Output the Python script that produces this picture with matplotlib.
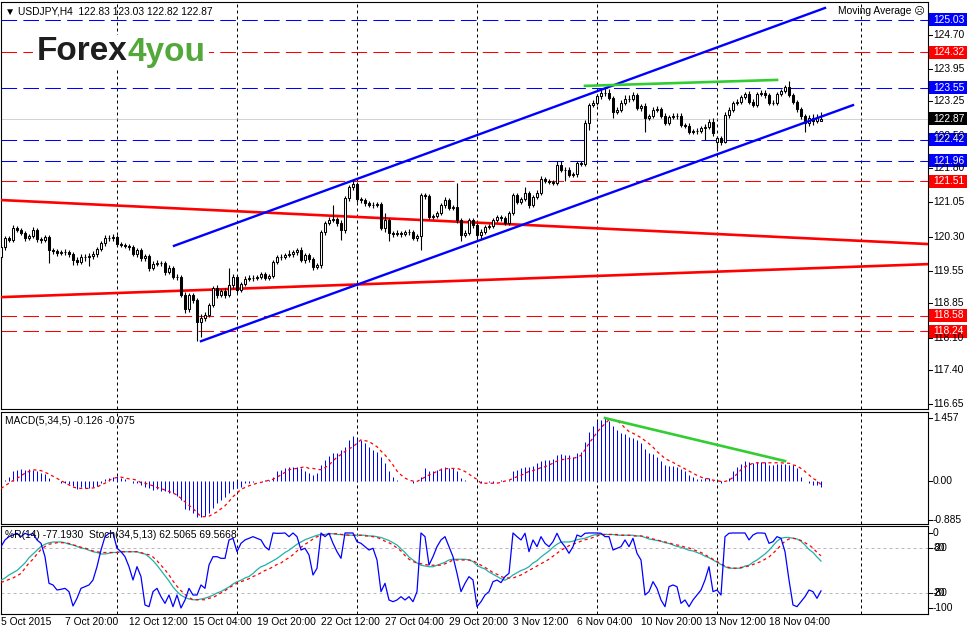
import matplotlib
matplotlib.use('Agg')
import matplotlib.pyplot as plt
from matplotlib.patches import Rectangle
from matplotlib.transforms import blended_transform_factory
import numpy as np

# ---- price data (USDJPY H4), bar 0 = 5 Oct 2015 ----
opens = [
    119.86, 120.07, 120.27, 120.23, 120.49, 120.45, 120.38, 120.27, 120.31, 120.45,
    120.25, 120.23, 120.29, 120.01, 119.99, 119.94, 119.96, 119.96, 119.92, 119.79,
    119.75, 119.86, 119.86, 119.88, 119.92, 120.03, 120.16, 120.27, 120.27, 120.29,
    120.14, 120.12, 120.10, 120.07, 119.92, 120.01, 119.83, 119.88, 119.62, 119.70,
    119.72, 119.72, 119.53, 119.62, 119.42, 119.42, 119.03, 118.72, 119.03, 118.92,
    118.44, 118.52, 118.59, 118.81, 119.18, 119.03, 119.11, 119.03, 119.24, 119.42,
    119.14, 119.27, 119.38, 119.40, 119.40, 119.42, 119.48, 119.40, 119.44, 119.75,
    119.86, 119.86, 119.90, 119.92, 119.96, 120.01, 119.79, 119.90, 119.81, 119.64,
    119.68, 120.40, 120.60, 120.66, 120.69, 120.60, 120.45, 121.14, 121.38, 121.45,
    121.12, 121.10, 121.03, 120.99, 120.99, 121.01, 120.49, 120.66, 120.38, 120.36,
    120.38, 120.36, 120.40, 120.40, 120.27, 120.31, 121.21, 121.19, 120.73, 120.75,
    120.82, 120.99, 121.10, 120.93, 120.95, 120.66, 120.34, 120.38, 120.66, 120.55,
    120.34, 120.40, 120.51, 120.53, 120.66, 120.73, 120.71, 120.60, 120.82, 121.21,
    121.06, 121.12, 121.25, 120.99, 121.17, 121.25, 121.56, 121.52, 121.49, 121.47,
    121.86, 121.76, 121.76, 121.65, 121.67, 121.91, 121.89, 122.78, 123.17, 123.22,
    123.37, 123.44, 123.44, 123.33, 123.02, 123.07, 123.22, 123.31, 123.31, 123.39,
    123.11, 123.15, 122.89, 122.93, 123.07, 123.09, 122.93, 122.78, 122.91, 122.93,
    122.93, 122.74, 122.72, 122.59, 122.61, 122.61, 122.67, 122.69, 122.80, 122.37,
    122.45, 122.37, 122.96, 123.07, 123.22, 123.24, 123.35, 123.41, 123.24, 123.17,
    123.41, 123.44, 123.39, 123.22, 123.22, 123.41, 123.48, 123.57, 123.39, 123.24,
    123.09, 122.93, 122.78, 122.89, 122.83, 122.83]
highs = [
    120.12, 120.32, 120.31, 120.55, 120.54, 120.50, 120.42, 120.36, 120.51, 120.49,
    120.30, 120.34, 120.33, 120.06, 120.04, 120.02, 120.03, 120.00, 119.96, 119.85,
    119.92, 119.93, 119.95, 119.98, 120.08, 120.21, 120.33, 120.34, 120.35, 120.33,
    120.19, 120.17, 120.15, 120.12, 120.06, 120.06, 119.93, 119.92, 119.76, 119.80,
    119.78, 119.78, 119.68, 119.67, 119.48, 119.47, 119.09, 119.08, 119.08, 118.97,
    118.62, 118.66, 118.86, 119.23, 119.25, 119.16, 119.17, 119.62, 119.48, 119.47,
    119.32, 119.44, 119.46, 119.46, 119.47, 119.53, 119.53, 119.49, 119.80, 119.91,
    119.92, 119.95, 120.02, 120.01, 120.06, 120.07, 119.95, 119.95, 119.86, 119.73,
    120.45, 120.65, 120.72, 120.99, 120.74, 120.66, 121.19, 121.43, 121.53, 121.50,
    121.17, 121.15, 121.08, 121.05, 121.06, 121.06, 120.82, 120.70, 120.43, 120.45,
    120.43, 120.45, 120.46, 120.45, 120.36, 121.26, 121.26, 121.23, 120.80, 120.87,
    121.04, 121.16, 121.15, 121.00, 121.47, 120.71, 120.44, 120.71, 120.70, 120.60,
    120.46, 120.56, 120.58, 120.71, 120.78, 120.78, 120.76, 120.87, 121.26, 121.26,
    121.17, 121.38, 121.30, 121.22, 121.31, 121.62, 121.61, 121.56, 121.53, 121.96,
    121.96, 121.82, 121.81, 121.71, 121.96, 121.95, 122.84, 123.22, 123.28, 123.42,
    123.52, 123.57, 123.53, 123.38, 123.12, 123.28, 123.40, 123.39, 123.46, 123.44,
    123.20, 123.21, 122.98, 123.13, 123.15, 123.14, 122.99, 122.96, 122.99, 122.99,
    122.99, 122.79, 122.77, 122.66, 122.67, 122.72, 122.75, 122.86, 122.89, 122.50,
    122.50, 123.01, 123.13, 123.27, 123.30, 123.40, 123.46, 123.47, 123.30, 123.46,
    123.49, 123.49, 123.44, 123.28, 123.46, 123.53, 123.62, 123.70, 123.44, 123.29,
    123.14, 122.98, 122.95, 122.98, 122.97, 123.03]
lows = [
    119.80, 120.02, 120.18, 120.19, 120.40, 120.33, 120.21, 120.22, 120.27, 120.18,
    120.17, 120.19, 119.72, 119.93, 119.88, 119.89, 119.90, 119.86, 119.68, 119.69,
    119.70, 119.78, 119.66, 119.82, 119.86, 119.98, 120.10, 120.21, 120.20, 120.09,
    120.07, 120.05, 120.02, 119.87, 119.86, 119.77, 119.76, 119.56, 119.57, 119.65,
    119.66, 119.47, 119.48, 119.37, 119.36, 118.98, 118.63, 118.66, 118.85, 118.02,
    118.11, 118.45, 118.54, 118.76, 118.97, 118.98, 118.97, 118.98, 119.19, 119.08,
    119.09, 119.22, 119.33, 119.34, 119.36, 119.37, 119.35, 119.36, 119.40, 119.70,
    119.80, 119.81, 119.86, 119.86, 119.91, 119.74, 119.73, 119.75, 119.58, 119.59,
    119.62, 120.34, 120.55, 120.61, 120.54, 120.22, 120.39, 121.08, 121.32, 121.05,
    121.04, 120.97, 120.94, 120.93, 120.94, 120.44, 120.40, 120.20, 120.29, 120.31,
    120.30, 120.31, 120.34, 120.22, 120.20, 120.01, 121.13, 120.68, 120.68, 120.70,
    120.77, 120.93, 120.88, 120.89, 120.60, 120.21, 120.29, 120.33, 120.49, 120.21,
    120.25, 120.35, 120.47, 120.49, 120.61, 120.65, 120.55, 120.55, 120.77, 121.01,
    121.01, 121.07, 120.93, 120.94, 121.12, 121.20, 121.47, 121.44, 121.42, 121.42,
    121.71, 121.51, 121.60, 121.60, 121.61, 121.84, 121.84, 122.62, 123.12, 123.17,
    123.31, 123.37, 123.28, 122.89, 122.97, 123.02, 123.17, 123.24, 123.26, 123.06,
    123.05, 122.58, 122.84, 122.88, 123.02, 122.88, 122.73, 122.73, 122.86, 122.87,
    122.69, 122.67, 122.53, 122.53, 122.55, 122.56, 122.42, 122.64, 122.50, 122.19,
    122.31, 122.35, 122.90, 123.01, 123.18, 123.19, 123.30, 123.19, 123.12, 123.14,
    123.36, 123.33, 123.17, 123.17, 123.17, 123.36, 123.43, 123.34, 123.19, 123.03,
    122.86, 122.58, 122.72, 122.74, 122.77, 122.82]
closes = [
    120.07, 120.27, 120.23, 120.49, 120.45, 120.38, 120.27, 120.31, 120.45, 120.25,
    120.23, 120.29, 120.01, 119.99, 119.94, 119.96, 119.96, 119.92, 119.79, 119.75,
    119.86, 119.86, 119.88, 119.92, 120.03, 120.16, 120.27, 120.27, 120.29, 120.14,
    120.12, 120.10, 120.07, 119.92, 120.01, 119.83, 119.88, 119.62, 119.70, 119.72,
    119.72, 119.53, 119.62, 119.42, 119.42, 119.03, 118.72, 119.03, 118.92, 118.44,
    118.52, 118.59, 118.81, 119.18, 119.03, 119.11, 119.03, 119.24, 119.42, 119.14,
    119.27, 119.38, 119.40, 119.40, 119.42, 119.48, 119.40, 119.44, 119.75, 119.86,
    119.86, 119.90, 119.92, 119.96, 120.01, 119.79, 119.90, 119.81, 119.64, 119.68,
    120.40, 120.60, 120.66, 120.69, 120.60, 120.45, 121.14, 121.38, 121.45, 121.12,
    121.10, 121.03, 120.99, 120.99, 121.01, 120.49, 120.66, 120.38, 120.36, 120.38,
    120.36, 120.40, 120.40, 120.27, 120.31, 121.21, 121.19, 120.73, 120.75, 120.82,
    120.99, 121.10, 120.93, 120.95, 120.66, 120.34, 120.38, 120.66, 120.55, 120.34,
    120.40, 120.51, 120.53, 120.66, 120.73, 120.71, 120.60, 120.82, 121.21, 121.06,
    121.12, 121.25, 120.99, 121.17, 121.25, 121.56, 121.52, 121.49, 121.47, 121.86,
    121.76, 121.76, 121.65, 121.67, 121.91, 121.89, 122.78, 123.17, 123.22, 123.37,
    123.44, 123.44, 123.33, 123.02, 123.07, 123.22, 123.31, 123.31, 123.39, 123.11,
    123.15, 122.89, 122.93, 123.07, 123.09, 122.93, 122.78, 122.91, 122.93, 122.93,
    122.74, 122.72, 122.59, 122.61, 122.61, 122.67, 122.69, 122.80, 122.56, 122.45,
    122.37, 122.96, 123.07, 123.22, 123.24, 123.35, 123.41, 123.24, 123.17, 123.41,
    123.44, 123.39, 123.22, 123.22, 123.41, 123.48, 123.57, 123.39, 123.24, 123.09,
    122.93, 122.78, 122.89, 122.83, 122.89, 122.87]

# ---- MACD(5,34,5) ----
macd = [
    0.00, 0.03, 0.10, 0.23, 0.27, 0.28, 0.27, 0.28, 0.27, 0.23,
    0.19, 0.17, 0.07, 0.00, 0.00, -0.03, -0.04, -0.06, -0.10, -0.18,
    -0.13, -0.16, -0.16, -0.13, -0.10, -0.04, 0.06, 0.09, 0.11, 0.13,
    0.07, 0.05, 0.00, -0.03, -0.04, -0.08, -0.12, -0.16, -0.20, -0.18,
    -0.21, -0.23, -0.26, -0.27, -0.33, -0.43, -0.64, -0.66, -0.73, -0.83,
    -0.83, -0.80, -0.73, -0.62, -0.50, -0.43, -0.35, -0.27, -0.18, -0.16,
    -0.13, -0.04, -0.03, -0.01, 0.00, 0.01, 0.03, 0.03, 0.11, 0.23,
    0.27, 0.30, 0.34, 0.34, 0.34, 0.30, 0.25, 0.20, 0.15, 0.19,
    0.38, 0.50, 0.59, 0.65, 0.65, 0.73, 0.80, 0.96, 1.04, 0.97,
    0.95, 0.88, 0.80, 0.73, 0.69, 0.57, 0.42, 0.23, 0.11, 0.03,
    0.01, 0.00, 0.00, -0.03, 0.00, 0.11, 0.30, 0.25, 0.25, 0.27,
    0.30, 0.34, 0.30, 0.30, 0.25, 0.07, 0.03, 0.01, 0.00, 0.00,
    -0.03, 0.00, -0.01, -0.03, 0.00, 0.03, 0.02, 0.03, 0.23, 0.27,
    0.30, 0.34, 0.33, 0.36, 0.42, 0.48, 0.50, 0.50, 0.51, 0.61,
    0.63, 0.61, 0.61, 0.57, 0.65, 0.69, 0.90, 1.13, 1.27, 1.40,
    1.42, 1.46, 1.40, 1.28, 1.19, 1.11, 1.10, 1.02, 1.00, 0.96,
    0.88, 0.74, 0.65, 0.63, 0.56, 0.46, 0.38, 0.36, 0.36, 0.34,
    0.28, 0.23, 0.15, 0.10, 0.05, 0.05, 0.07, 0.07, 0.03, 0.00,
    -0.04, 0.01, 0.07, 0.23, 0.34, 0.40, 0.46, 0.44, 0.42, 0.44,
    0.44, 0.44, 0.38, 0.38, 0.40, 0.40, 0.40, 0.38, 0.38, 0.30,
    0.10, 0.00, -0.03, -0.08, -0.08, -0.126]
macd_signal = [
    -0.16, -0.10, -0.04, 0.02, 0.07, 0.13, 0.19, 0.23, 0.27, 0.26,
    0.25, 0.21, 0.17, 0.12, 0.07, 0.02, -0.03, -0.08, -0.13, -0.15,
    -0.16, -0.16, -0.16, -0.15, -0.13, -0.08, -0.04, 0.02, 0.07, 0.09,
    0.10, 0.08, 0.06, 0.05, 0.03, -0.03, -0.04, -0.07, -0.10, -0.14,
    -0.16, -0.20, -0.23, -0.27, -0.31, -0.39, -0.47, -0.55, -0.62, -0.72,
    -0.81, -0.81, -0.80, -0.75, -0.70, -0.63, -0.56, -0.46, -0.35, -0.27,
    -0.18, -0.14, -0.10, -0.07, -0.04, -0.02, 0.00, 0.03, 0.05, 0.10,
    0.15, 0.21, 0.27, 0.29, 0.30, 0.32, 0.34, 0.30, 0.30, 0.28,
    0.27, 0.32, 0.38, 0.47, 0.56, 0.62, 0.69, 0.75, 0.80, 0.88,
    0.96, 0.94, 0.92, 0.86, 0.80, 0.70, 0.61, 0.50, 0.38, 0.24,
    0.15, 0.08, 0.03, 0.01, 0.00, 0.05, 0.10, 0.15, 0.19, 0.23,
    0.27, 0.29, 0.30, 0.30, 0.30, 0.27, 0.23, 0.17, 0.10, 0.05,
    -0.04, -0.04, -0.04, -0.04, -0.04, -0.02, 0.01, 0.03, 0.07, 0.11,
    0.14, 0.19, 0.23, 0.25, 0.28, 0.32, 0.34, 0.38, 0.42, 0.47,
    0.50, 0.51, 0.53, 0.53, 0.56, 0.60, 0.73, 0.88, 1.00, 1.13,
    1.24, 1.33, 1.42, 1.42, 1.40, 1.33, 1.23, 1.15, 1.11, 1.06,
    1.01, 0.94, 0.87, 0.79, 0.69, 0.61, 0.53, 0.48, 0.44, 0.38,
    0.34, 0.29, 0.24, 0.19, 0.14, 0.10, 0.07, 0.06, 0.03, 0.02,
    0.00, 0.00, 0.03, 0.09, 0.17, 0.27, 0.34, 0.38, 0.42, 0.43,
    0.43, 0.43, 0.43, 0.43, 0.43, 0.43, 0.42, 0.42, 0.38, 0.36,
    0.30, 0.23, 0.15, 0.07, 0.02, -0.075]

# ---- Williams %R(14) and Stochastic(34,5,13) ----
wpr = [
    -18.2, -9.3, -4.9, -2.7, -0.4, -4.9, -0.4, -2.7, -0.4, -9.3,
    -13.8, -31.6, -67.1, -69.3, -76.0, -75.1, -73.8, -78.2, -97.3, -87.1,
    -73.8, -71.6, -69.3, -62.7, -44.9, -22.7, -4.9, -0.5, 0.0, -20.4,
    -24.9, -31.6, -44.9, -62.7, -44.9, -58.2, -96.0, -98.2, -78.2, -73.8,
    -84.9, -93.8, -82.7, -98.2, -82.7, -100.0, -89.3, -73.8, -82.7, -82.7,
    -69.3, -73.8, -42.7, -31.6, -31.6, -33.8, -33.8, -9.3, -7.1, -24.9,
    -13.8, -9.3, -7.1, -4.9, -7.1, -9.3, -18.2, -22.7, 0.0, -0.5,
    -0.4, 0.0, -4.9, 0.0, -4.9, -22.7, -20.4, -29.3, -56.0, -47.1,
    0.0, -4.9, -0.4, -13.8, -24.9, -33.8, 0.0, 0.0, 0.0, -11.6,
    -13.8, -18.2, -22.7, -20.4, -36.0, -78.2, -67.1, -89.3, -91.6, -89.3,
    -84.9, -89.3, -84.9, -91.6, -78.2, 0.0, -4.9, -42.7, -31.6, -18.2,
    -9.3, -4.9, -18.2, -31.6, -53.8, -78.2, -67.1, -58.2, -62.7, -98.2,
    -91.6, -82.7, -78.2, -64.9, -62.7, -66.2, -58.2, -53.8, 0.0, -4.9,
    -9.3, -0.4, -24.9, -9.3, -18.2, -4.9, -13.8, -18.2, -11.6, -0.4,
    -11.6, -18.2, -27.1, -18.2, -2.7, -4.9, -0.4, 0.0, 0.0, 0.0,
    -0.4, -4.9, -4.9, -22.7, -20.4, -18.2, -9.3, -18.2, -7.1, -27.1,
    -36.0, -82.7, -78.2, -64.9, -73.8, -89.3, -98.2, -71.6, -69.3, -71.6,
    -93.8, -89.3, -98.2, -89.3, -82.7, -76.0, -62.7, -44.9, -78.2, -76.0,
    -82.7, -4.9, -0.4, 0.0, 0.0, 0.0, 0.0, -9.3, -2.7, 0.0,
    0.0, -0.4, -13.8, -11.6, -4.9, -7.1, -24.9, -62.7, -96.0, -98.2,
    -91.6, -84.9, -76.0, -78.2, -87.1, -77.19]
stoch_main = [
    37, 40, 44, 47, 50, 55, 60, 67, 72, 77,
    82, 85, 87, 88, 88, 88, 87, 85, 84, 82,
    80, 79, 77, 75, 74, 72, 72, 73, 74, 74,
    75, 75, 75, 75, 75, 73, 72, 68, 63, 57,
    50, 43, 36, 28, 22, 17, 14, 12, 11, 11,
    12, 13, 15, 17, 20, 22, 25, 28, 32, 35,
    37, 40, 42, 46, 51, 55, 57, 60, 63, 66,
    70, 74, 77, 81, 85, 88, 91, 93, 95, 97,
    98, 98, 99, 99, 98, 98, 97, 97, 97, 97,
    97, 97, 96, 96, 95, 94, 92, 90, 87, 84,
    79, 74, 68, 64, 60, 57, 56, 55, 55, 57,
    59, 61, 64, 65, 65, 65, 65, 64, 62, 57,
    54, 52, 48, 45, 42, 39, 37, 40, 44, 47,
    50, 52, 55, 60, 63, 68, 72, 76, 81, 85,
    88, 88, 88, 89, 91, 92, 93, 95, 97, 98,
    98, 98, 98, 98, 97, 97, 97, 97, 97, 96,
    96, 94, 92, 91, 90, 89, 87, 86, 84, 82,
    81, 79, 77, 76, 74, 72, 69, 67, 64, 61,
    58, 55, 53, 53, 53, 53, 56, 57, 61, 64,
    68, 72, 77, 83, 89, 93, 94, 94, 93, 92,
    89, 84, 78, 74, 68, 62.51]
stoch_signal = [
    34, 36, 38, 40, 43, 46, 53, 60, 65, 72,
    78, 82, 85, 86, 87, 87, 87, 86, 84, 83,
    81, 80, 78, 76, 75, 74, 74, 74, 74, 74,
    75, 75, 75, 75, 75, 74, 72, 71, 68, 63,
    57, 51, 44, 36, 29, 23, 18, 14, 11, 11,
    11, 11, 13, 14, 17, 20, 23, 27, 30, 33,
    35, 37, 39, 42, 44, 47, 50, 52, 55, 58,
    60, 64, 67, 71, 76, 81, 85, 88, 92, 95,
    97, 98, 99, 99, 99, 98, 98, 97, 97, 97,
    97, 96, 96, 95, 94, 92, 89, 87, 84, 80,
    76, 70, 65, 62, 60, 59, 58, 57, 57, 57,
    57, 59, 61, 64, 64, 64, 64, 64, 63, 60,
    57, 54, 51, 47, 45, 42, 40, 40, 40, 42,
    44, 47, 50, 53, 56, 59, 62, 65, 69, 73,
    77, 80, 83, 85, 87, 89, 91, 92, 94, 96,
    98, 98, 98, 98, 98, 97, 97, 97, 96, 96,
    96, 95, 94, 92, 91, 89, 88, 87, 85, 84,
    83, 81, 80, 78, 76, 74, 71, 68, 65, 62,
    59, 56, 54, 53, 53, 54, 55, 56, 58, 60,
    62, 65, 68, 73, 78, 84, 89, 92, 93, 92,
    90, 87, 84, 80, 74, 69.57]

# ---- axis labels and drawn objects ----
date_bars = [0, 16, 32, 48, 64, 80, 96, 112, 128, 144, 160, 176, 192]
date_labels = ['5 Oct 2015', '7 Oct 20:00', '12 Oct 12:00', '15 Oct 04:00', '19 Oct 20:00',
               '22 Oct 12:00', '27 Oct 04:00', '29 Oct 20:00', '3 Nov 12:00', '6 Nov 04:00',
               '10 Nov 20:00', '13 Nov 12:00', '18 Nov 04:00']
week_bars = [29, 59, 89, 119, 149, 179, 215]
price_ticks = [124.70, 123.95, 123.25, 122.50, 121.80, 121.05, 120.30, 119.55, 118.85, 118.10, 117.40, 116.65]
blue_levels = [125.03, 123.55, 122.42, 121.96]
red_levels = [124.32, 121.51, 118.58, 118.24]
last_price = 122.87
red_line_1 = ([-0.25, 231.5], [121.10, 120.14])
red_line_2 = ([-0.25, 231.5], [118.98, 119.70])
channel_top = ([43.25, 206.0], [120.10, 125.29])
channel_bottom = ([50.0, 213.0], [118.02, 123.17])
green_price = ([146.0, 194.0], [123.59, 123.72])
green_macd = ([151.0, 196.0], [1.46, 0.47])

W, H = 967, 631
FS = 7.4
plt.rcParams['font.family'] = ['Liberation Sans', 'DejaVu Sans']
fig = plt.figure(figsize=(W / 100, H / 100), dpi=100)
fig.patch.set_facecolor('white')


def px_axes(x0, y0, x1, y1):
    a = fig.add_axes([x0 / W, 1 - y1 / H, (x1 - x0) / W, (y1 - y0) / H])
    a.set_xticks([])
    a.set_yticks([])
    for s in a.spines.values():
        s.set_linewidth(0.8)
        s.set_color('black')
    a.set_xlim(0, 231.75)
    for b in week_bars:
        a.axvline(b, color='black', lw=0.72, ls=(0, (3, 3)), zorder=1)
    return a


ax = px_axes(1, 2, 928, 409)
axm = px_axes(1, 412, 928, 524)
axs = px_axes(1, 526, 928, 614)
ax.set_ylim(116.54, 125.42)
axm.set_ylim(-0.98, 1.60)
axs.set_ylim(-108, 9.3)

idx = np.arange(len(closes))
o = np.array(opens)
c = np.array(closes)

# main chart: levels
for v in blue_levels:
    ax.axhline(v, color='#0000ff', lw=0.75, ls=(0, (15, 6)), zorder=2)
for v in red_levels:
    ax.axhline(v, color='#ff0000', lw=0.75, ls=(0, (15, 6)), zorder=2)
ax.axhline(last_price, color='#a8a8a8', lw=0.72, ls=(0, (1, 1)), zorder=2)
ax.plot(*red_line_1, color='#ff0000', lw=1.9, zorder=3)
ax.plot(*red_line_2, color='#ff0000', lw=1.9, zorder=3)

# candles
ax.vlines(idx, lows, highs, color='black', lw=0.8, zorder=4)
bull = c >= o
body = np.abs(c - o)
ax.bar(idx[bull], body[bull], bottom=o[bull], width=0.55, color='white',
       edgecolor='black', linewidth=0.75, zorder=5)
ax.bar(idx[~bull], body[~bull], bottom=c[~bull], width=0.55, color='black',
       edgecolor='black', linewidth=0.75, zorder=5)

ax.plot(*channel_top, color='#0000ff', lw=1.7, zorder=6)
ax.plot(*channel_bottom, color='#0000ff', lw=1.7, zorder=6)
ax.plot(*green_price, color='#32cd32', lw=1.9, zorder=6)

# MACD
hist = axm.vlines(idx, 0, macd, color='#0000ff', lw=0.72, zorder=3)
hist.set_snap(True)
axm.plot(idx, macd_signal, color='#ff0000', lw=0.9, ls=(0, (2.5, 2.5)), zorder=4)
axm.plot(*green_macd, color='#32cd32', lw=1.9, zorder=5)

# %R + Stochastic (stochastic drawn on the %R scale)
axs.axhline(-20, color='#c0b4c0', lw=0.72, ls=(0, (3, 3)), zorder=1)
axs.axhline(-80, color='#b4c0b4', lw=0.72, ls=(0, (3, 3)), zorder=1)
axs.plot(idx, np.array(stoch_main) - 100, color='#20b2aa', lw=0.9, zorder=3)
axs.plot(idx, np.array(stoch_signal) - 100, color='#ff0000', lw=0.9, ls=(0, (2.5, 2.5)), zorder=3)
axs.plot(idx, wpr, color='#0000ff', lw=0.9, zorder=4)


def right_label(a, v, s, box=None, fg='black', tick=True):
    tr = blended_transform_factory(fig.transFigure, a.transData)
    y0, y1 = a.get_ylim()
    dpp = (y1 - y0) / (a.get_position().height * H)
    if tick:
        a.plot([928 / W, 932 / W], [v, v], transform=tr, color='black', lw=0.75, clip_on=False)
    if box is not None:
        a.add_patch(Rectangle((929 / W, v - 6.5 * dpp), 38 / W, 13 * dpp, transform=tr,
                              facecolor=box, edgecolor='none', clip_on=False, zorder=8))
    a.text(933 / W, v, s, transform=tr, fontsize=FS, color=fg, va='center', ha='left',
           clip_on=False, zorder=9)


for v in price_ticks:
    right_label(ax, v, f'{v:.2f}')
for v in blue_levels:
    right_label(ax, v, f'{v:.2f}', box='#0000ff', fg='white', tick=False)
for v in red_levels:
    right_label(ax, v, f'{v:.2f}', box='#ff0000', fg='white', tick=False)
right_label(ax, last_price, f'{last_price:.2f}', box='black', fg='white', tick=False)

right_label(axm, 1.457, '1.457')
right_label(axm, 0.0, '0.00')
right_label(axm, -0.885, '-0.885')

# the terminal prints both scales on top of each other here
right_label(axs, 0, '0')
right_label(axs, -20, '80')
right_label(axs, -20, '-20', tick=False)
right_label(axs, -80, '20')
right_label(axs, -80, '-80', tick=False)
right_label(axs, -100, '-100')

for a in (ax, axm, axs):
    a.set_xlim(0, 231.75)
ax.set_ylim(116.54, 125.42)
axm.set_ylim(-0.98, 1.60)
axs.set_ylim(-108, 9.3)

# date labels
trx = blended_transform_factory(axs.transData, fig.transFigure)
for b, s in zip(date_bars, date_labels):
    axs.text(b, 1 - 622 / H, s, transform=trx, fontsize=FS, ha='left', va='center', clip_on=False)

# headers
fig.text(5 / W, 1 - 11 / H, '\u25bc USDJPY,H4  122.83 123.03 122.82 122.87', fontsize=FS, va='center')
fig.text(925 / W, 1 - 11 / H, 'Moving Average \u2639', fontsize=FS, va='center', ha='right')
fig.text(5 / W, 1 - 421 / H, 'MACD(5,34,5) -0.126 -0.075', fontsize=FS, va='center')
fig.text(5 / W, 1 - 535 / H, '%R(14) -77.1930  Stoch(34,5,13) 62.5065 69.5668', fontsize=FS, va='center')

# logo
fig.patches.append(Rectangle((33 / W, 1 - 68 / H), 176 / W, 33 / H, transform=fig.transFigure,
                             facecolor='white', edgecolor='none', zorder=2))
t1 = fig.text(37 / W, 1 - 52 / H, 'Forex', fontsize=24, fontweight='bold', color='#1e1e1e',
              va='center', family=['Liberation Sans', 'DejaVu Sans'], zorder=3)
fig.canvas.draw()
bb = t1.get_window_extent()
fig.text(bb.x1 / W, 1 - 52 / H, '4you', fontsize=24, fontweight='bold', color='#52a83a',
         va='center', family=['Liberation Sans', 'DejaVu Sans'], zorder=3)

fig.savefig('out.png', dpi=100, facecolor='white')
